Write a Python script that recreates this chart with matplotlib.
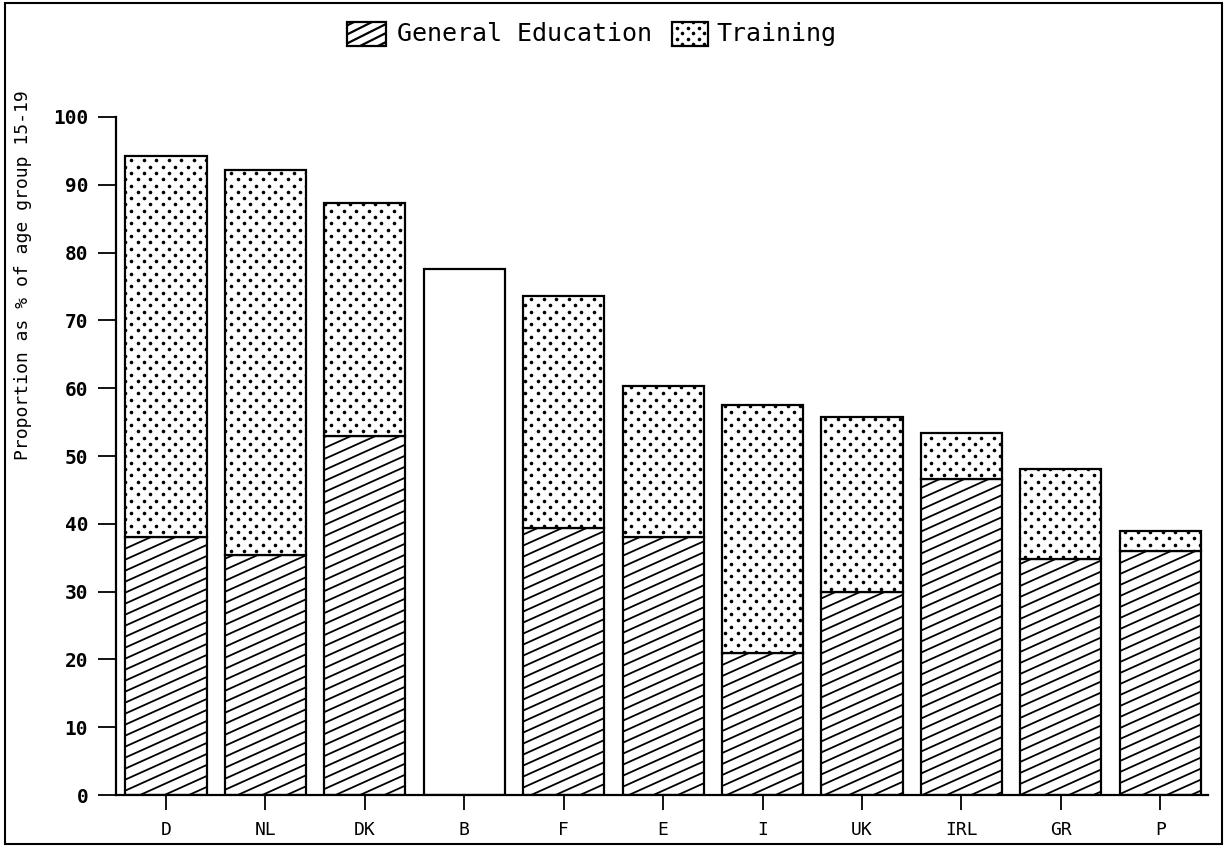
import matplotlib
matplotlib.use("Agg")
import matplotlib.pyplot as plt
from matplotlib.patches import Rectangle
from matplotlib.lines import Line2D
from matplotlib.transforms import IdentityTransform
import numpy as np

# proportion of age group 15-19 (%)
paises = ["D", "NL", "DK", "B", "F", "E", "I", "UK", "IRL", "GR", "P"]
educacion_general = [38, 35.4, 53, 0, 39.4, 38, 21, 30, 46.6, 34.8, 36]
total = [94.2, 92.2, 87.3, 77.6, 73.6, 60.3, 57.5, 55.7, 53.4, 48.1, 39]
sin_desglose = [False, False, False, True, False, False, False, False, False, False, False]

formacion = [t - g for t, g in zip(total, educacion_general)]

ANCHO_FIG, ALTO_FIG = 1229, 847


def rayar(fig, parche, espaciado=11, pendiente=0.45, lw=1.3):
    # diagonal lines like the old plotter hatch (shallower than 45 deg)
    bb = parche.get_window_extent()
    cmin = bb.y0 - pendiente * bb.x1
    cmax = bb.y1 - pendiente * bb.x0
    for k in range(int(np.floor(cmin / espaciado)), int(np.ceil(cmax / espaciado)) + 1):
        c = k * espaciado
        linea = Line2D([bb.x0, bb.x1], [pendiente * bb.x0 + c, pendiente * bb.x1 + c],
                       transform=IdentityTransform(), color='black', lw=lw)
        linea.set_clip_path(parche)
        fig.add_artist(linea)


def puntear(fig, parche, dx=12.5, dy=6.3, ms=2.6):
    # staggered dot texture
    bb = parche.get_window_extent()
    xs, ys = [], []
    for j in range(int(np.floor(bb.y0 / dy)), int(np.ceil(bb.y1 / dy)) + 1):
        desfase = (dx / 2) if j % 2 else 0
        for i in range(int(np.floor(bb.x0 / dx)) - 1, int(np.ceil(bb.x1 / dx)) + 1):
            xs.append(i * dx + desfase)
            ys.append(j * dy)
    puntos = Line2D(xs, ys, transform=IdentityTransform(), ls='none', marker='o',
                    ms=ms, color='black', markeredgewidth=0)
    puntos.set_clip_path(parche)
    fig.add_artist(puntos)


plt.rcParams['font.family'] = ['DejaVu Sans Mono']

fig = plt.figure(figsize=(ANCHO_FIG / 100, ALTO_FIG / 100), dpi=100)
ax = fig.add_axes([116 / ANCHO_FIG, 52 / ALTO_FIG, 1092 / ANCHO_FIG, 678 / ALTO_FIG])

x = np.arange(len(paises))
ancho = 0.815

ax.set_xlim(-0.503, 10.48)
ax.set_ylim(0, 100)

rayadas, punteadas = [], []
for i in range(len(paises)):
    if sin_desglose[i]:
        ax.bar(x[i], total[i], ancho, color='white', edgecolor='black', linewidth=1.6)
    else:
        b1 = ax.bar(x[i], educacion_general[i], ancho, color='white', edgecolor='black',
                    linewidth=1.6)
        b2 = ax.bar(x[i], formacion[i], ancho, bottom=educacion_general[i], color='white',
                    edgecolor='black', linewidth=1.6)
        rayadas.append(b1[0])
        punteadas.append(b2[0])

ax.set_xlim(-0.503, 10.48)
ax.set_ylim(0, 100)
ax.set_yticks(range(0, 101, 10))
ax.set_xticks(x)
ax.set_xticklabels(paises)
ax.tick_params(axis='y', direction='out', length=13, width=1.3, labelsize=14, pad=7)
ax.tick_params(axis='x', direction='out', length=11, width=1.3, labelsize=13, pad=8)
for t in ax.get_yticklabels():
    t.set_fontweight('bold')
for s in ['top', 'right']:
    ax.spines[s].set_visible(False)
ax.spines['left'].set_linewidth(1.6)
ax.spines['bottom'].set_linewidth(1.6)

ax.set_ylabel('Proportion as % of age group 15-19', fontsize=13)
ax.yaxis.set_label_coords(-0.077, 0.767)

for p in rayadas:
    rayar(fig, p)
for p in punteadas:
    puntear(fig, p)

# legend drawn by hand so the textures match the bars
caja_ge = Rectangle((347 / ANCHO_FIG, (ALTO_FIG - 46) / ALTO_FIG), 39 / ANCHO_FIG, 24 / ALTO_FIG,
                    transform=fig.transFigure, facecolor='white', edgecolor='black', lw=1.6)
caja_tr = Rectangle((672 / ANCHO_FIG, (ALTO_FIG - 46) / ALTO_FIG), 36 / ANCHO_FIG, 24 / ALTO_FIG,
                    transform=fig.transFigure, facecolor='white', edgecolor='black', lw=1.6)
fig.add_artist(caja_ge)
fig.add_artist(caja_tr)
rayar(fig, caja_ge, espaciado=9, pendiente=0.5, lw=1.6)
puntear(fig, caja_tr, dx=11, dy=5.5)
fig.text(397 / ANCHO_FIG, (ALTO_FIG - 34) / ALTO_FIG, 'General Education', fontsize=18,
         va='center', ha='left')
fig.text(716 / ANCHO_FIG, (ALTO_FIG - 34) / ALTO_FIG, 'Training', fontsize=18,
         va='center', ha='left')

fig.patches.append(Rectangle((0.004, 0.004), 0.99, 0.992, transform=fig.transFigure,
                             fill=False, edgecolor='black', linewidth=1.5))

plt.savefig('out.png', dpi=100)
